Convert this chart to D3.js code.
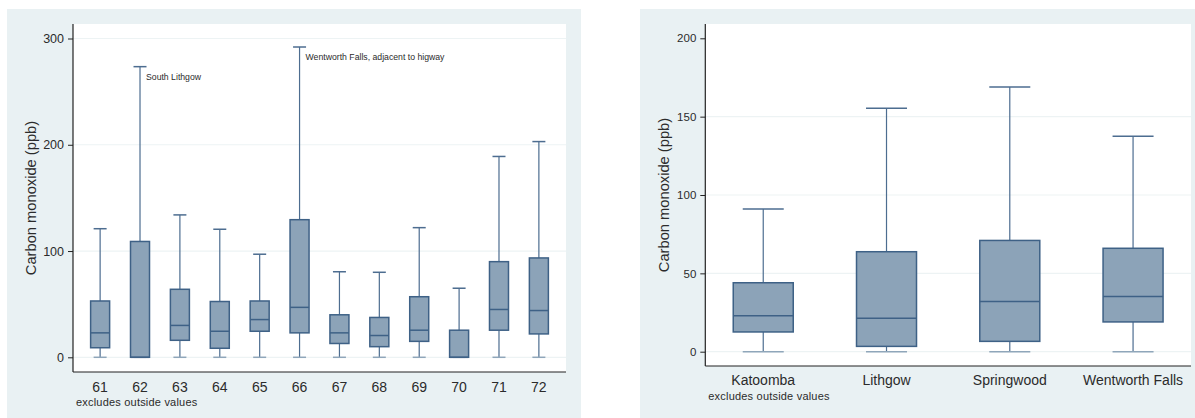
<!DOCTYPE html>
<html><head><meta charset="utf-8">
<script src="https://cdn.jsdelivr.net/npm/d3@7"></script>
<style>
html,body{margin:0;padding:0;background:#fff;}
svg{display:block;}
text{font-family:"Liberation Sans",Arial,sans-serif;fill:#2b2b2b;}
</style></head>
<body>
<svg id="c" width="1195" height="418"></svg>
<script>
// ---- Data: left panel (site numbers) ----
const siteCats = ["61","62","63","64","65","66","67","68","69","70","71","72"];
const siteLow  = [0,0,0,0,0,0,0,0,0,0,0,0];
const siteQ1   = [9,0,16,8.5,24.5,23,13,10,15,0,25.5,22];
const siteMed  = [23,0,30,24.5,35.5,47,23,20.5,25.5,0,45,44];
const siteQ3   = [53,109,64,52.5,53,129.5,40,37.5,57,25.5,90,93.5];
const siteHigh = [121,273.5,134,120.5,97,292,80.5,80,122,65,189,203];
const siteTicks = [0,100,200,300];
const siteNotes = [{cat:"62", text:"South Lithgow", v:273.5},
                   {cat:"66", text:"Wentworth Falls, adjacent to higway", v:292}];

// ---- Data: right panel (towns) ----
const townCats = ["Katoomba","Lithgow","Springwood","Wentworth Falls"];
const townLow  = [0,0,0,0];
const townQ1   = [12.6,3.4,6.6,19];
const townMed  = [23,21.3,32,35.2];
const townQ3   = [44,63.8,71,66];
const townHigh = [91,155.3,169,137.5];
const townTicks = [0,50,100,150,200];

const yTitle = "Carbon monoxide (ppb)";
const note = "excludes outside values";

const svg = d3.select("#c");
const BG = "#e9f1f3", FILL = "#8ca3b8", STROKE = "#3e6186", WHISK = "#4d6d90", GRID = "#edf3f4";

function panel(o){
  const g = svg.append("g");
  g.append("rect").attr("x",o.bx0).attr("y",9).attr("width",o.bx1-o.bx0).attr("height",418-9).attr("fill",BG);
  g.append("rect").attr("x",o.px0).attr("y",o.py0).attr("width",o.px1-o.px0).attr("height",o.py1-o.py0).attr("fill","#fff");
  const x = d3.scalePoint().domain(o.cats).range([o.px0,o.px1]).padding(o.pad);
  const y = d3.scaleLinear().domain([0,o.ticks[o.ticks.length-1]]).range([o.y0,o.yTop]);
  // grid
  g.selectAll(".grid").data(o.gridTicks).join("line")
    .attr("x1",o.px0).attr("x2",o.px1).attr("y1",d=>y(d)).attr("y2",d=>y(d))
    .attr("stroke",GRID).attr("stroke-width",1.2);
  // y axis
  const ya = g.append("g").attr("transform",`translate(${o.px0},0)`)
    .call(d3.axisLeft(y).tickValues(o.ticks).tickSize(5).tickPadding(4).tickSizeOuter(0));
  ya.select(".domain").remove();
  ya.selectAll(".tick line").attr("stroke","#222");
  ya.selectAll(".tick text").attr("font-size",o.tickFs).attr("fill","#2b2b2b")
    .attr("font-family",'"Liberation Sans",Arial,sans-serif');
  g.append("line").attr("x1",o.px0).attr("x2",o.px0).attr("y1",o.py0).attr("y2",o.py1).attr("stroke","#222").attr("stroke-width",1.2);
  g.append("line").attr("x1",o.px0).attr("x2",o.px1).attr("y1",o.py1).attr("y2",o.py1).attr("stroke","#222").attr("stroke-width",1.2);
  // y title
  g.append("text").attr("transform",`translate(${o.titleX},${(o.py0+o.py1)/2}) rotate(-90)`)
    .attr("text-anchor","middle").attr("font-size",14.7).text(yTitle);
  // x labels
  g.selectAll(".xl").data(o.cats).join("text")
    .attr("x",d=>x(d)).attr("y",o.xlabY).attr("text-anchor","middle")
    .attr("font-size",o.xFs).text(d=>d);
  // note
  g.append("text").attr("x",o.px0+3).attr("y",o.noteY).attr("font-size",11)
    .attr("letter-spacing","0.2").text(note);
  // boxes
  const rows = o.cats.map((c,i)=>({c, lo:o.low[i], q1:o.q1[i], md:o.med[i], q3:o.q3[i], hi:o.high[i]}));
  const bw = o.boxW, cw = o.capW;
  const b = g.selectAll(".box").data(rows).join("g");
  b.append("line").attr("x1",d=>x(d.c)).attr("x2",d=>x(d.c)).attr("y1",d=>y(d.q3)).attr("y2",d=>y(d.hi))
    .attr("stroke",WHISK).attr("stroke-width",1.2);
  b.append("line").attr("x1",d=>x(d.c)).attr("x2",d=>x(d.c)).attr("y1",d=>y(d.lo)).attr("y2",d=>y(d.q1))
    .attr("stroke",WHISK).attr("stroke-width",1.2);
  b.append("line").attr("x1",d=>x(d.c)-cw/2).attr("x2",d=>x(d.c)+cw/2).attr("y1",d=>y(d.hi)).attr("y2",d=>y(d.hi))
    .attr("stroke",WHISK).attr("stroke-width",1.5);
  b.append("line").attr("x1",d=>x(d.c)-cw/2).attr("x2",d=>x(d.c)+cw/2).attr("y1",d=>y(d.lo)).attr("y2",d=>y(d.lo))
    .attr("stroke","#8fa6ba").attr("stroke-width",1.5);
  b.append("rect").attr("x",d=>x(d.c)-bw/2).attr("width",bw)
    .attr("y",d=>y(d.q3)).attr("height",d=>Math.max(0,y(d.q1)-y(d.q3)))
    .attr("fill",FILL).attr("stroke",STROKE).attr("stroke-width",1.5);
  b.append("line").attr("x1",d=>x(d.c)-bw/2).attr("x2",d=>x(d.c)+bw/2).attr("y1",d=>y(d.md)).attr("y2",d=>y(d.md))
    .attr("stroke",STROKE).attr("stroke-width",1.5);
  // annotations
  if (o.notes) {
    g.selectAll(".ann").data(o.notes).join("text")
      .attr("x",d=>x(d.cat)+6).attr("y",d=>y(d.v)+o.annDy).attr("font-size",8.7).attr("fill","#111").text(d=>d.text);
  }
  return {x,y};
}

panel({bx0:7,bx1:581,px0:73,px1:566,py0:24,py1:372,y0:357.3,yTop:38.5,pad:0.68,
  cats:siteCats,low:siteLow,q1:siteQ1,med:siteMed,q3:siteQ3,high:siteHigh,
  ticks:siteTicks,gridTicks:siteTicks,tickFs:12.5,xFs:14,xlabY:391.5,noteY:406,titleX:35.5,
  boxW:19,capW:13,notes:siteNotes,annDy:13});

panel({bx0:640,bx1:1195,px0:705.3,px1:1191,py0:24,py1:366,y0:351.7,yTop:38.3,pad:0.47,
  cats:townCats,low:townLow,q1:townQ1,med:townMed,q3:townQ3,high:townHigh,
  ticks:townTicks,gridTicks:[0,50,100,150],tickFs:11.5,xFs:14,xlabY:385,noteY:399.5,titleX:668.8,
  boxW:60,capW:41});
</script>
</body></html>
